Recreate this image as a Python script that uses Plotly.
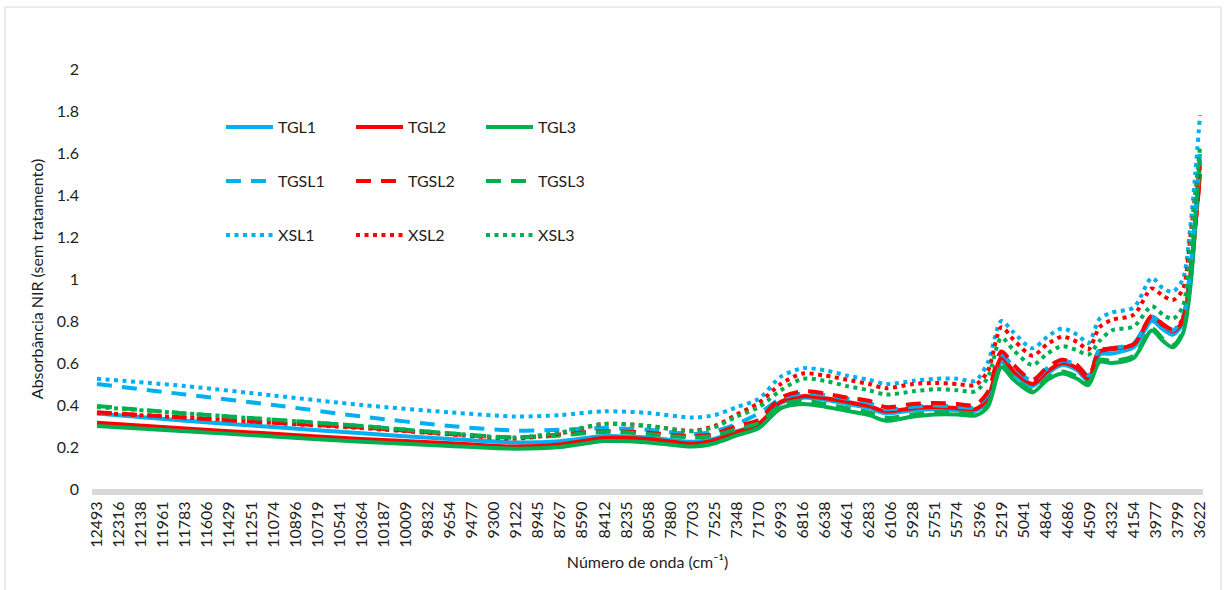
import plotly.graph_objects as go

# Wavenumbers (cm-1) at which the spectra are sampled
wavenumber = [12493, 11783, 11074, 10364, 9654, 9122, 8767, 8412, 8058, 7703,
              7525, 7348, 7170, 6993, 6816, 6638, 6461, 6283, 6150, 5928,
              5751, 5574, 5430, 5330, 5219, 5120, 4970, 4850, 4730, 4610,
              4520, 4430, 4332, 4154, 4010, 3920, 3840, 3760, 3700, 3660, 3622]

TGL1 = [0.360, 0.325, 0.295, 0.265, 0.238, 0.222, 0.228, 0.252, 0.245, 0.225,
        0.240, 0.275, 0.310, 0.410, 0.435, 0.425, 0.405, 0.385, 0.360, 0.375,
        0.380, 0.375, 0.372, 0.420, 0.605, 0.545, 0.490, 0.550, 0.590, 0.565,
        0.515, 0.640, 0.645, 0.675, 0.800, 0.760, 0.735, 0.790, 1.000, 1.280, 1.550]
TGL2 = [0.315, 0.288, 0.263, 0.238, 0.218, 0.202, 0.212, 0.243, 0.238, 0.215,
        0.232, 0.270, 0.310, 0.415, 0.442, 0.432, 0.415, 0.395, 0.370, 0.385,
        0.390, 0.385, 0.380, 0.430, 0.625, 0.560, 0.500, 0.560, 0.600, 0.575,
        0.525, 0.655, 0.665, 0.690, 0.820, 0.780, 0.750, 0.800, 1.000, 1.250, 1.500]
TGL3 = [0.300, 0.275, 0.250, 0.225, 0.205, 0.192, 0.200, 0.228, 0.222, 0.202,
        0.218, 0.255, 0.290, 0.385, 0.405, 0.392, 0.372, 0.352, 0.325, 0.345,
        0.355, 0.355, 0.350, 0.390, 0.580, 0.520, 0.460, 0.520, 0.550, 0.525,
        0.495, 0.605, 0.600, 0.625, 0.755, 0.705, 0.675, 0.740, 0.960, 1.250, 1.570]
TGSL1 = [0.500, 0.450, 0.400, 0.345, 0.300, 0.278, 0.282, 0.290, 0.282, 0.262,
         0.275, 0.310, 0.360, 0.430, 0.455, 0.448, 0.430, 0.410, 0.380, 0.392,
         0.398, 0.392, 0.390, 0.450, 0.640, 0.580, 0.515, 0.575, 0.610, 0.590,
         0.540, 0.665, 0.670, 0.695, 0.820, 0.780, 0.755, 0.820, 1.050, 1.300, 1.600]
TGSL2 = [0.365, 0.340, 0.315, 0.293, 0.262, 0.245, 0.260, 0.275, 0.268, 0.252,
         0.262, 0.300, 0.330, 0.435, 0.465, 0.455, 0.435, 0.420, 0.390, 0.405,
         0.410, 0.405, 0.400, 0.460, 0.655, 0.590, 0.520, 0.580, 0.615, 0.590,
         0.535, 0.660, 0.670, 0.690, 0.825, 0.785, 0.760, 0.810, 1.020, 1.250, 1.490]
TGSL3 = [0.395, 0.360, 0.330, 0.300, 0.265, 0.245, 0.255, 0.272, 0.262, 0.245,
         0.255, 0.285, 0.315, 0.400, 0.420, 0.405, 0.385, 0.365, 0.338, 0.355,
         0.365, 0.365, 0.360, 0.400, 0.590, 0.530, 0.470, 0.530, 0.560, 0.535,
         0.505, 0.615, 0.610, 0.635, 0.765, 0.715, 0.685, 0.750, 0.980, 1.280, 1.600]
XSL1 = [0.525, 0.490, 0.445, 0.400, 0.365, 0.345, 0.352, 0.370, 0.362, 0.340,
        0.352, 0.390, 0.430, 0.535, 0.575, 0.565, 0.540, 0.520, 0.500, 0.515,
        0.525, 0.525, 0.515, 0.600, 0.800, 0.745, 0.670, 0.725, 0.765, 0.735,
        0.695, 0.810, 0.840, 0.865, 1.005, 0.955, 0.940, 1.000, 1.250, 1.500, 1.780]
XSL2 = [0.362, 0.340, 0.315, 0.290, 0.260, 0.240, 0.265, 0.310, 0.300, 0.277,
        0.300, 0.355, 0.410, 0.500, 0.550, 0.540, 0.520, 0.500, 0.480, 0.500,
        0.505, 0.500, 0.495, 0.560, 0.770, 0.710, 0.635, 0.690, 0.725, 0.700,
        0.665, 0.770, 0.805, 0.830, 0.955, 0.920, 0.900, 0.950, 1.200, 1.400, 1.550]
XSL3 = [0.390, 0.360, 0.330, 0.300, 0.265, 0.245, 0.270, 0.310, 0.300, 0.275,
        0.295, 0.345, 0.390, 0.470, 0.525, 0.515, 0.490, 0.470, 0.450, 0.465,
        0.475, 0.470, 0.465, 0.530, 0.720, 0.660, 0.590, 0.645, 0.680, 0.660,
        0.640, 0.705, 0.755, 0.775, 0.870, 0.830, 0.810, 0.870, 1.150, 1.400, 1.630]

tick_labels = ["12493", "12316", "12138", "11961", "11783", "11606", "11429", "11251",
               "11074", "10896", "10719", "10541", "10364", "10187", "10009", "9832",
               "9654", "9477", "9300", "9122", "8945", "8767", "8590", "8412", "8235",
               "8058", "7880", "7703", "7525", "7348", "7170", "6993", "6816", "6638",
               "6461", "6283", "6106", "5928", "5751", "5574", "5396", "5219", "5041",
               "4864", "4686", "4509", "4332", "4154", "3977", "3799", "3622"]
y_ticks = [0, 0.2, 0.4, 0.6, 0.8, 1, 1.2, 1.4, 1.6, 1.8, 2]

BLUE, RED, GREEN = "#00B0F0", "#FF0000", "#00B050"
FONT = "Lato"
TXT = "#1e1e1e"
DASH = "15px,10px"
DOT = "4px,4.5px"

series = [
    ("TGL1", TGL1, BLUE, "solid", "legend"),
    ("TGL2", TGL2, RED, "solid", "legend"),
    ("TGL3", TGL3, GREEN, "solid", "legend"),
    ("TGSL1", TGSL1, BLUE, DASH, "legend2"),
    ("TGSL2", TGSL2, RED, DASH, "legend2"),
    ("TGSL3", TGSL3, GREEN, DASH, "legend2"),
    ("XSL1", XSL1, BLUE, DOT, "legend3"),
    ("XSL2", XSL2, RED, DOT, "legend3"),
    ("XSL3", XSL3, GREEN, DOT, "legend3"),
]

fig = go.Figure()
for name, vals, color, dash, leg in series:
    fig.add_trace(go.Scatter(
        x=wavenumber, y=vals, name=name, mode="lines", legend=leg,
        line=dict(color=color, width=4, dash=dash, shape="spline", smoothing=0.8),
        hoverinfo="x+y+name",
    ))

# plot-area geometry in pixels
W, H = 1224, 590
L, R, T, B = 92, 21, 69, 101
pw, ph = W - L - R, H - T - B


def px_x(p):
    return (p - L) / pw


def px_y(p):
    return (H - B - p) / ph


leg_common = dict(orientation="h", xanchor="left", yanchor="middle",
                  font=dict(family=FONT, size=16, color=TXT),
                  bgcolor="rgba(0,0,0,0)", itemwidth=47, entrywidth=68,
                  traceorder="normal", itemclick=False)

fig.update_layout(
    width=W, height=H,
    margin=dict(l=L, r=R, t=T, b=B, pad=0),
    paper_bgcolor="white", plot_bgcolor="white",
    font=dict(family=FONT, color=TXT),
    showlegend=True,
    legend=dict(x=px_x(221), y=px_y(127), **leg_common),
    legend2=dict(x=px_x(221), y=px_y(181), **leg_common),
    legend3=dict(x=px_x(221), y=px_y(235), **leg_common),
    xaxis=dict(
        range=[12533, 3598], tickvals=[float(t) for t in tick_labels],
        ticktext=tick_labels, tickangle=-90, ticks="",
        tickfont=dict(family=FONT, size=16, color=TXT),
        showgrid=False, zeroline=False,
        showline=True, linecolor="#D9D9D9", linewidth=6,
        title=dict(text="Número de onda (cm⁻¹)", font=dict(family=FONT, size=16, color=TXT),
                   standoff=12),
    ),
    yaxis=dict(
        range=[0, 2], tickvals=y_ticks, ticktext=[f"{v:g}" for v in y_ticks],
        ticks="", showgrid=False, zeroline=False, showline=False,
        tickfont=dict(family=FONT, size=16, color=TXT), ticklabelstandoff=12,
        title=dict(text="Absorbância NIR (sem tratamento)",
                   font=dict(family=FONT, size=16, color=TXT), standoff=9),
    ),
    shapes=[dict(type="rect", xref="paper", yref="paper",
                 x0=px_x(5), x1=px_x(1221), y0=px_y(600), y1=px_y(7),
                 line=dict(color="#D9D9D9", width=1), fillcolor="rgba(0,0,0,0)",
                 layer="below")],
)

fig.write_html("out.html")
